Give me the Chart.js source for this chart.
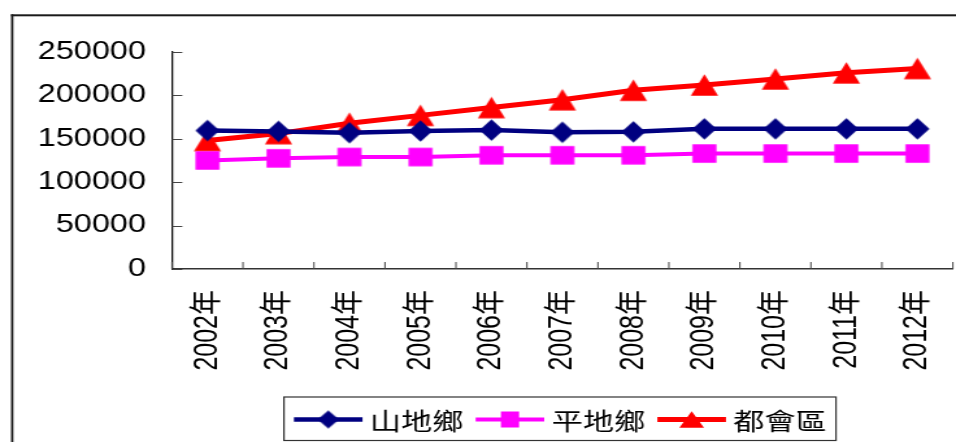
<!DOCTYPE html>
<html>
<head>
<meta charset="utf-8">
<script src="https://cdn.jsdelivr.net/npm/chart.js@4.4.1/dist/chart.umd.min.js"></script>
<style>
  html, body { margin: 0; padding: 0; background: #fff; overflow: hidden; width: 956px; height: 442px; }
  /* the drawing is laid out on a narrower canvas and widened horizontally */
  #stage { position: absolute; left: 0; top: 0; width: 736px; height: 442px;
           transform: scaleX(1.29891); transform-origin: 0 0; }
  canvas { display: block; }
</style>
</head>
<body>
<div id="stage"><canvas id="c" width="736" height="442"></canvas></div>
<script>
// Population by township type, 2002–2012
const years = ['2002年', '2003年', '2004年', '2005年', '2006年', '2007年',
               '2008年', '2009年', '2010年', '2011年', '2012年'];
const mountainTownships = [159500, 158500, 157000, 159000, 160000, 157500,
                           158000, 161500, 161500, 161500, 161500];
const plainTownships = [125000, 127500, 129000, 129000, 131000, 131000,
                        131000, 133000, 133000, 133000, 133000];
const metroDistricts = [148000, 156000, 168000, 177000, 186000, 195000,
                        206000, 212000, 219000, 226000, 231000];
const seriesNames = ['山地鄉', '平地鄉', '都會區'];
const yTickValues = [0, 50000, 100000, 150000, 200000, 250000];

// filled marker shapes drawn onto small canvases
function makeMarker(shape, w, h, color) {
  const c = document.createElement('canvas');
  c.width = Math.ceil(w) + 2;
  c.height = Math.ceil(h) + 2;
  const g = c.getContext('2d');
  const cx = c.width / 2, cy = c.height / 2;
  g.fillStyle = color;
  g.beginPath();
  if (shape === 'diamond') {
    g.moveTo(cx, cy - h / 2); g.lineTo(cx + w / 2, cy);
    g.lineTo(cx, cy + h / 2); g.lineTo(cx - w / 2, cy);
  } else if (shape === 'square') {
    g.rect(cx - w / 2, cy - h / 2, w, h);
  } else {
    g.moveTo(cx, cy - h / 2); g.lineTo(cx + w / 2, cy + h / 2);
    g.lineTo(cx - w / 2, cy + h / 2);
  }
  g.closePath();
  g.fill();
  return c;
}

const NAVY = '#000080', MAGENTA = '#ff00ff', RED = '#ff0000';
const styles = [
  { color: NAVY, width: 4.5, point: makeMarker('diamond', 18.5, 21.5, NAVY), key: makeMarker('diamond', 16.5, 18, NAVY) },
  { color: MAGENTA, width: 4, point: makeMarker('square', 18.5, 18.5, MAGENTA), key: makeMarker('square', 14, 16, MAGENTA) },
  { color: RED, width: 5, point: makeMarker('triangle', 21, 21.5, RED), key: makeMarker('triangle', 19, 16.5, RED) }
];
const seriesValues = [mountainTownships, plainTownships, metroDistricts];

const TICK_FONT = { family: '"Liberation Sans", Arial, "Noto Sans CJK TC", sans-serif', size: 25 };

// outer frame, inward tick marks and the boxed legend
const decor = {
  id: 'decor',
  beforeDraw(chart) {
    const ctx = chart.ctx;
    ctx.save();
    ctx.fillStyle = '#1a1a1a';
    ctx.fillRect(8.5, 14.3, 1.8, 500);
    ctx.fillRect(8.5, 14.3, 800, 2);
    ctx.restore();
  },
  beforeDatasetsDraw(chart) {
    const ctx = chart.ctx;
    const xs = chart.scales.x, ys = chart.scales.y;
    ctx.save();
    ctx.strokeStyle = '#444';
    ctx.lineWidth = 1;
    ctx.beginPath();
    ys.ticks.forEach(t => {
      const py = Math.round(ys.getPixelForValue(t.value)) + 0.5;
      ctx.moveTo(ys.right, py);
      ctx.lineTo(ys.right + 8, py);
    });
    const half = (xs.getPixelForValue(1) - xs.getPixelForValue(0)) / 2;
    for (let i = 0; i <= years.length; i++) {
      const px = i < years.length ? xs.getPixelForValue(i) - half : xs.getPixelForValue(i - 1) + half;
      ctx.moveTo(px, xs.top);
      ctx.lineTo(px, xs.top - 7);
    }
    ctx.stroke();
    ctx.restore();
  },
  afterDraw(chart) {
    const ctx = chart.ctx;
    const box = { left: 218.6, top: 397, right: 643.6, bottom: 440.5 };
    const midY = 419.5;
    ctx.save();
    ctx.strokeStyle = '#333';
    ctx.lineWidth = 1.2;
    ctx.strokeRect(box.left, box.top, box.right - box.left, box.bottom - box.top);
    ctx.font = '24px "Noto Sans CJK TC", "Noto Sans CJK SC", sans-serif';
    ctx.textBaseline = 'middle';
    ctx.fillStyle = '#000';
    let x = box.left + 7.7;
    chart.data.datasets.forEach((ds, i) => {
      const st = styles[i];
      ctx.strokeStyle = st.color;
      ctx.lineWidth = st.width;
      ctx.beginPath();
      ctx.moveTo(x, midY);
      ctx.lineTo(x + 52.8, midY);
      ctx.stroke();
      ctx.drawImage(st.key, x + 26.4 - st.key.width / 2, midY - st.key.height / 2);
      const tx = x + 52.8 + 5.7;
      ctx.fillText(ds.label, tx, midY + 1.5);
      x = tx + ctx.measureText(ds.label).width + 9.4;
    });
    ctx.restore();
  }
};

new Chart(document.getElementById('c'), {
  type: 'line',
  data: {
    labels: years,
    datasets: seriesValues.map((vals, i) => ({
      label: seriesNames[i],
      data: vals,
      borderColor: styles[i].color,
      backgroundColor: styles[i].color,
      borderWidth: styles[i].width,
      pointStyle: styles[i].point,
      pointRadius: 10,
      tension: 0,
      fill: false
    }))
  },
  options: {
    responsive: false,
    animation: false,
    events: [],
    devicePixelRatio: 1,
    layout: { autoPadding: false, padding: { left: 0, top: 52, right: 2.4, bottom: 0 } },
    plugins: { legend: { display: false }, tooltip: { enabled: false } },
    scales: {
      x: {
        type: 'category',
        offset: true,
        grid: { display: true, drawOnChartArea: false, drawTicks: false },
        border: { display: true, color: '#333', width: 1.5 },
        ticks: {
          color: '#000', font: TICK_FONT, autoSkip: false,
          minRotation: 90, maxRotation: 90, padding: 21
        },
        afterFit(scale) {
          scale.height = 173;
          scale.paddingLeft = 0;
          scale.paddingRight = 0;
        }
      },
      y: {
        min: 0, max: 250000,
        grid: { display: true, drawOnChartArea: false, drawTicks: false },
        border: { display: true, color: '#111', width: 1.3 },
        ticks: { color: '#000', font: TICK_FONT, padding: 20, callback: v => String(v) },
        afterBuildTicks(scale) { scale.ticks = yTickValues.map(v => ({ value: v })); },
        afterFit(scale) {
          scale.width = 132.4;
          scale.paddingTop = 0;
          scale.paddingBottom = 0;
        }
      }
    }
  },
  plugins: [decor]
});
</script>
</body>
</html>
